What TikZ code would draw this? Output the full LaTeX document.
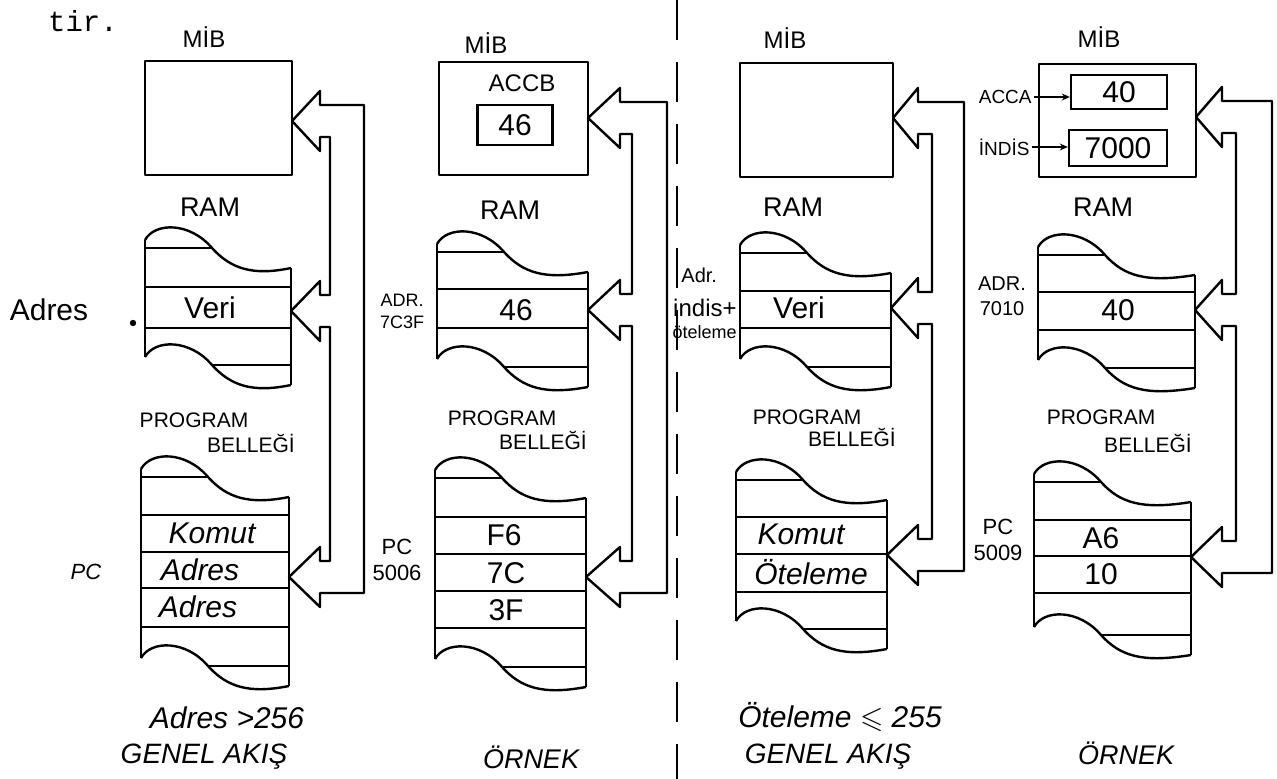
\documentclass[tikz,border=0pt]{standalone}
\usepackage{fontspec}
\usepackage{amssymb}
\usetikzlibrary{arrows.meta}
\setmainfont{Liberation Sans}
\newfontfamily\daktilo{Liberation Mono}

% bellek seridi: sol x, sag x, ust yarim cizgi, alt yarim cizgi, tam cizgiler
\newcommand{\bellek}[5]{%
  \draw[hat] (#1,{#3-8}) .. controls ({#1+10},{#3-26}) and ({#1+45},{#3-26}) .. ({#1+67},#3)
    .. controls ({#1+86},{#3+21}) and ({#1+108},{#3+28}) .. (#2,{#3+20});
  \draw[hat] (#1,{#4-8}) .. controls ({#1+10},{#4-26}) and ({#1+45},{#4-26}) .. ({#1+67},#4)
    .. controls ({#1+86},{#4+21}) and ({#1+108},{#4+28}) .. (#2,{#4+20});
  \draw[hat] (#1,{#3-8}) -- (#1,{#4-8});
  \draw[hat] (#2,{#3+20}) -- (#2,{#4+20});
  \draw[hat] (#1,#3) -- ({#1+67},#3);
  \draw[hat] ({#1+67},#4) -- (#2,#4);
  \foreach \y in {#5} { \draw[hat] (#1,\y) -- (#2,\y); }
}

% veri yolu: ok arkasi, ic hat, dis hat, MIB ucu, RAM ucu, program ucu
\newcommand{\yol}[9]{%
  \draw[hat] (#1,{#5+16}) -- (#1,{#5+30}) -- (#4,#5) -- (#1,{#5-30}) -- (#1,{#5-16})
    -- (#3,{#5-16}) -- (#3,{#9+16}) -- (#1,{#9+16}) -- (#1,{#9+30}) -- (#8,#9)
    -- (#1,{#9-30}) -- (#1,{#9-16}) -- (#2,{#9-16}) -- (#2,{#7+16}) -- (#1,{#7+16})
    -- (#1,{#7+30}) -- (#6,#7) -- (#1,{#7-30}) -- (#1,{#7-16}) -- (#2,{#7-16})
    -- (#2,{#5+16}) -- cycle;
}

\begin{document}
\begin{tikzpicture}[x=0.5pt, y=-0.5pt,
    hat/.style={line width=1.2pt, line join=round},
    kutu/.style={draw, line width=1.2pt, inner sep=0pt},
    deger/.style={font=\fontsize{15}{17}\selectfont},
    egik/.style={font=\fontsize{15}{17}\selectfont\itshape},
    etiket/.style={font=\fontsize{12}{14}\selectfont},
    baslik/.style={font=\fontsize{13.5}{15}\selectfont},
    kucuk/.style={font=\fontsize{10.5}{12}\selectfont, align=center, inner sep=1pt},
    ok/.style={-{Stealth[length=4pt, width=3.5pt]}, line width=0.8pt}]

  \useasboundingbox (0,0) rectangle (1277,779);

  \node[font=\daktilo\fontsize{14.5}{16}\selectfont] (tir) at (83,21) {tir.};

  % genel akis, adres > 256
  \node[etiket] (mib1) at (204,37) {MİB};
  \draw[hat] (145,61) rectangle (292,175);
  \node[baslik] (ram1) at (210,207) {RAM};
  \bellek{145}{291}{248}{365}{287,328}
  \node[deger] (veri1) at (210,308) {Veri};
  \node[deger] (adres1) at (49,310) {Adres};
  \fill (133,323) circle[radius=1.6pt];
  \node[kucuk] (prg1) at (194,420) {PROGRAM};
  \node[kucuk] (bel1) at (251,443) {BELLEĞİ};
  \bellek{141}{289}{477}{666}{515,552,588,627}
  \node[egik] (komut1) at (212,533) {Komut};
  \node[egik] (adr1a) at (200,570) {Adres};
  \node[egik] (adr1b) at (198,607) {Adres};
  \node[font=\fontsize{11}{13}\selectfont\itshape] (pc1) at (86,572) {PC};
  \yol{320}{330}{364}{292}{121}{291}{311}{289}{577}
  \node[egik] (kosul1) at (227,718) {Adres >256};
  \node[font=\fontsize{14}{16}\selectfont\itshape] (genel1) at (204,757) {GENEL AKIŞ};

  % ornek
  \node[etiket] (mib2) at (486,43) {MİB};
  \draw[hat] (439,62) rectangle (588,175);
  \node[etiket] (accb) at (522,83) {ACCB};
  \node[kutu, deger, minimum width=37.5pt, minimum height=20pt] (accbkutu) at (515,125) {46};
  \node[baslik] (ram2) at (510,210) {RAM};
  \bellek{437}{588}{252}{367}{289,328}
  \node[deger] (veri2) at (516,310) {46};
  \node[kucuk, font=\fontsize{9}{11}\selectfont] (adr2) at (402,311) {ADR.\\7C3F};
  \node[kucuk] (prg2) at (502,418) {PROGRAM};
  \node[kucuk] (bel2) at (543,440) {BELLEĞİ};
  \bellek{435}{586}{478}{667}{517,554,591,628}
  \node[deger] (f6) at (504,535) {F6};
  \node[deger] (k7c) at (506,573) {7C};
  \node[deger] (k3f) at (506,610) {3F};
  \node[kucuk, font=\fontsize{11}{13}\selectfont] (pc2) at (397,560) {PC\\5006};
  \yol{620}{632}{667}{588}{118}{588}{310}{586}{577}
  \node[font=\fontsize{13.5}{15}\selectfont\itshape] (ornek2) at (531,757) {ÖRNEK};

  \draw[hat, dash pattern=on 20pt off 11pt] (677,0) -- (677,779);

  % genel akis, oteleme <= 255
  \node[etiket] (mib3) at (785,38) {MİB};
  \draw[hat] (740,63) rectangle (893,177);
  \node[baslik] (ram3) at (793,207) {RAM};
  \bellek{740}{891}{253}{367}{291,328}
  \node[deger] (veri3) at (799,308) {Veri};
  \node[kucuk, font=\fontsize{10}{12}\selectfont, anchor=west] (adr3) at (679,275) {Adr.};
  \node[kucuk, font=\fontsize{12}{14}\selectfont, anchor=east] (indis3) at (739,308) {indis+};
  \node[kucuk, font=\fontsize{9}{11}\selectfont, anchor=east] (otel3) at (739,332) {öteleme};
  \node[kucuk] (prg3) at (807,417) {PROGRAM};
  \node[kucuk] (bel3) at (852,437) {BELLEĞİ};
  \bellek{736}{887}{480}{629}{517,554,592}
  \node[egik] (komut3) at (801,534) {Komut};
  \node[egik] (otel3b) at (811,572) {Öteleme};
  \yol{918}{932}{964}{893}{118}{891}{308}{887}{555}
  \node[egik] (kosul3) at (840,717) {Öteleme $\leqslant$ 255};
  \node[font=\fontsize{14}{16}\selectfont\itshape] (genel3) at (828,757) {GENEL AKIŞ};

  % ornek
  \node[etiket] (mib4) at (1099,37) {MİB};
  \draw[hat] (1039,64) rectangle (1196,177);
  \node[kutu, deger, minimum width=48pt, minimum height=17pt] (accakutu) at (1119,92) {40};
  \node[kutu, deger, minimum width=49pt, minimum height=18pt] (indiskutu) at (1118,148) {7000};
  \node[kucuk, font=\fontsize{9.5}{11}\selectfont, anchor=east] (acca) at (1034,97) {ACCA};
  \node[kucuk, font=\fontsize{9.5}{11}\selectfont, anchor=east] (indis4) at (1032,147) {İNDİS};
  \draw[ok] (acca) -- (accakutu.west |- acca);
  \draw[ok] (indis4) -- (indiskutu.west |- indis4);
  \node[baslik] (ram4) at (1103,207) {RAM};
  \bellek{1038}{1195}{255}{368}{292,330}
  \node[deger] (veri4) at (1118,310) {40};
  \node[kucuk, font=\fontsize{10}{12.5}\selectfont] (adr4) at (1002,296) {ADR.\\7010};
  \node[kucuk] (prg4) at (1101,417) {PROGRAM};
  \node[kucuk] (bel4) at (1148,443) {BELLEĞİ};
  \bellek{1034}{1191}{482}{635}{520,556,593}
  \node[deger] (a6) at (1101,538) {A6};
  \node[deger] (on4) at (1101,574) {10};
  \node[kucuk, font=\fontsize{11}{13}\selectfont] (pc4) at (998,540) {PC\\5009};
  \yol{1222}{1236}{1272}{1196}{117}{1195}{310}{1191}{557}
  \node[font=\fontsize{13.5}{15}\selectfont\itshape] (ornek4) at (1126,753) {ÖRNEK};
\end{tikzpicture}
\end{document}
